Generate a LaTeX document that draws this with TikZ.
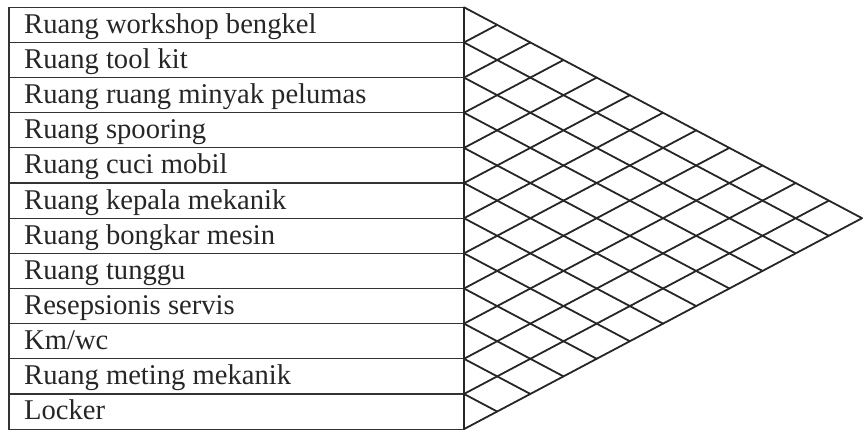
\documentclass[tikz,border=0pt]{standalone}
\usepackage{fontspec}
\setmainfont{Liberation Serif}
\usetikzlibrary{calc}
\begin{document}
\begin{tikzpicture}[x=1pt,y=-1pt,
  rowbox/.style={draw=black!80, line width=1.1pt},
  rowtext/.style={anchor=base west, inner sep=0pt, font=\fontsize{28.6}{30}\selectfont, text=black!85},
  gridline/.style={draw=black!85, line width=1.8pt, line cap=round, line join=round}]
\useasboundingbox (0,0) rectangle (865,430);
\def\yo{7.3}\def\hh{35.15}\def\xl{9}\def\xr{464}\def\dx{33.17}
\foreach \t [count=\i from 0] in {Ruang workshop bengkel, Ruang tool kit, Ruang ruang minyak pelumas, Ruang spooring, Ruang cuci mobil, Ruang kepala mekanik, Ruang bongkar mesin, Ruang tunggu, Resepsionis servis, Km/wc, Ruang meting mekanik, Locker}{
  \draw[rowbox] (\xl,{\yo+\i*\hh}) rectangle (\xr,{\yo+\i*\hh+\hh});
  \node[rowtext] (r\i) at (24,{\yo+\i*\hh+26}) {\t};
}
\coordinate (T) at (\xr,\yo);
\coordinate (B) at (\xr,{\yo+12*\hh});
\coordinate (A) at ({\xr+12*\dx},{\yo+6*\hh});
\draw[gridline] (T) -- (A) -- (B) -- cycle;
\foreach \k in {1,...,11}{
  \coordinate (P\k) at (\xr,{\yo+\k*\hh});
  \draw[gridline] (P\k) -- ++({(12-\k)*\dx},{(12-\k)*\hh/2});
  \draw[gridline] (P\k) -- ++({\k*\dx},{-\k*\hh/2});
}
\end{tikzpicture}
\end{document}
